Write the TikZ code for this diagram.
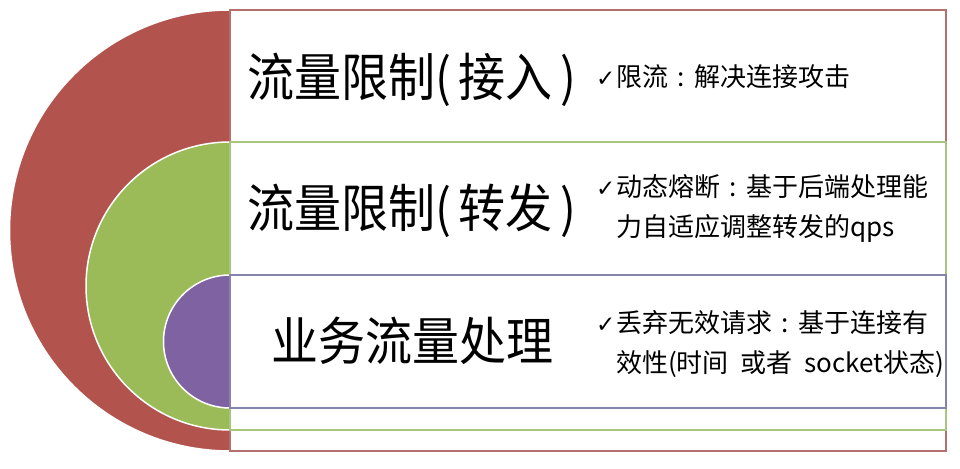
\documentclass[tikz,border=0pt]{standalone}
\usepackage{fontspec}
\usepackage{graphicx}
\setmainfont{Noto Sans CJK SC}
\newfontfamily\symfont{DejaVu Sans}
\newcommand\tickmark{\makebox[20pt][l]{\symfont\fontsize{23}{23}\selectfont ✓}}
\newcommand\fwcolon{\makebox[1em][c]{:}}
\newcommand\wsp{\hspace{0.45em}}
\definecolor{redfill}{HTML}{B3534E}
\definecolor{greenfill}{HTML}{9BBB59}
\definecolor{purplefill}{HTML}{7F62A1}
\definecolor{redline}{HTML}{B5706D}
\definecolor{greenline}{HTML}{A9C47F}
\definecolor{purpleline}{HTML}{8584AB}
\begin{document}
\begin{tikzpicture}[x=1pt,y=1pt,
  halfdisc/.style={draw=white,line width=1.5pt},
  panel/.style={fill=white,line width=1.4pt},
  title/.style={inner sep=0pt,anchor=west,font=\fontsize{47}{50}\selectfont},
  desc/.style={inner sep=0pt,anchor=west,align=left,font=\fontsize{26}{40.5}\selectfont}]
\useasboundingbox (0,0) rectangle (960,468);
% red layer
\fill[redfill,halfdisc] (230,458) arc[start angle=90,end angle=270,radius=220.5] -- cycle;
\draw[panel,draw=redline] (230,17) rectangle (946,458);
% green layer
\fill[greenfill,halfdisc] (230,326) arc[start angle=90,end angle=270,radius=144] -- cycle;
\draw[panel,draw=greenline] (230,38) rectangle (946,326);
% purple layer
\fill[purplefill,halfdisc] (230,193) arc[start angle=90,end angle=270,radius=66.5] -- cycle;
\draw[panel,draw=purpleline] (230,60) rectangle (946,193);
% titles
\node[title] (t1) at (247,388) {\scalebox{1}[1.1]{流量限制(\,接入\,)}};
\node[title] (t2) at (247,257) {\scalebox{1}[1.1]{流量限制(\,转发\,)}};
\node[title] (t3) at (271,127) {\scalebox{1}[1.1]{业务流量处理}};
% descriptions
\node[desc] (d1) at (596,391) {\tickmark 限流\fwcolon 解决连接攻击};
\node[desc] (d2) at (596,259.5) {\tickmark 动态熔断\fwcolon 基于后端处理能\\\phantom{\tickmark}力自适应调整转发的qps};
\node[desc] (d3) at (596,124) {\tickmark 丢弃无效请求\fwcolon 基于连接有\\\phantom{\tickmark}效性(时间\wsp 或者\wsp socket状态)};
\end{tikzpicture}
\end{document}
